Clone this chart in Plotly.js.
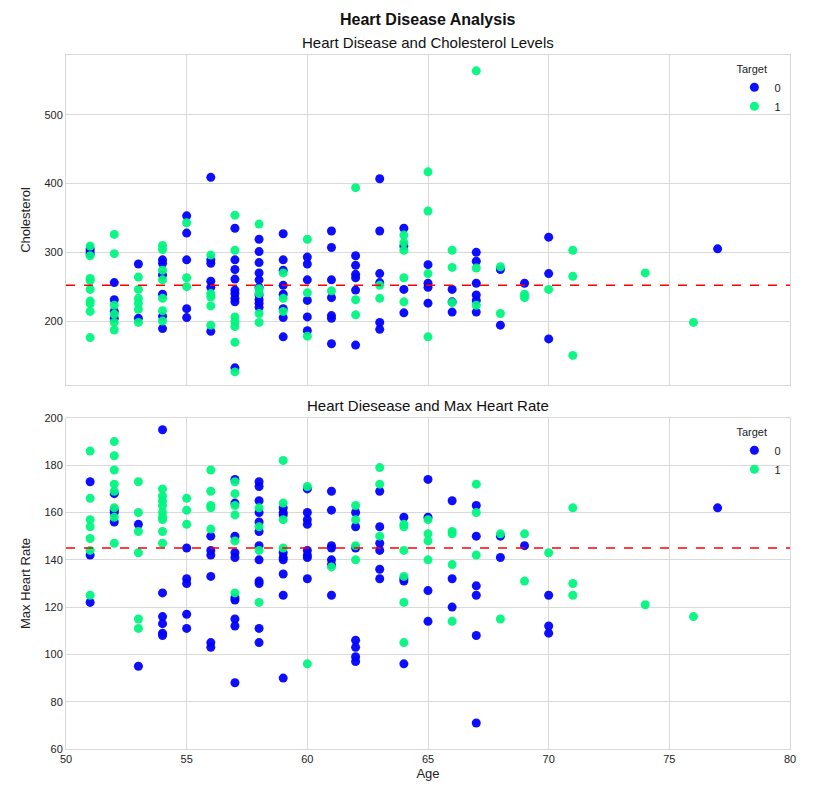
<!DOCTYPE html>
<html>
<head>
<meta charset="utf-8">
<script src="https://cdn.plot.ly/plotly-3.0.1.min.js"></script>
<style>
  body { margin: 0; background: #fff; }
  #plot { width: 826px; height: 795px; }
</style>
</head>
<body>
<div id="plot"></div>
<script>
// ages that have points, and values read per age (target 0 / target 1)
var cholAges0 = [51, 52, 53, 54, 55, 56, 57, 58, 59, 60, 61, 62, 63, 64, 65, 66, 67, 68, 69, 70, 77];
var cholVals0 = [
  [305, 302, 298], [256, 231, 214, 204], [283, 204], [289, 284, 267, 239, 207, 189],
  [353, 328, 289, 218, 205], [409, 289, 284, 258, 249, 185],
  [335, 289, 275, 261, 245, 240, 233, 228, 132],
  [319, 301, 285, 270, 260, 249, 238, 231, 226, 220],
  [327, 289, 274, 252, 239, 218, 205, 177], [293, 283, 260, 230, 206, 186],
  [331, 307, 260, 234, 208, 204, 167], [295, 281, 268, 263, 245, 165],
  [407, 331, 269, 256, 198, 188], [335, 309, 246, 212], [282, 255, 249, 226],
  [246, 228, 213], [300, 287, 255, 238, 230, 213], [275, 194], [255], [322, 269, 174], [305]
];
var cholAges1 = [51, 52, 53, 54, 55, 56, 57, 58, 59, 60, 61, 62, 63, 64, 65, 66, 67, 68, 69, 70, 71, 74, 76];
var cholVals1 = [
  [309, 295, 262, 259, 246, 229, 225, 214, 176], [326, 298, 223, 210, 198, 187],
  [264, 246, 233, 226, 217, 198], [310, 304, 274, 260, 233, 215, 200], [343, 263, 250],
  [296, 240, 235, 222, 194], [354, 303, 206, 199, 192, 169, 126], [341, 247, 240, 211, 198],
  [270, 233, 214], [319, 241, 178], [244], [394, 231, 209], [252, 233],
  [325, 314, 303, 263, 228], [417, 360, 269, 177], [303, 278, 227], [564, 277, 223],
  [279, 211], [239, 234], [246], [303, 265, 150], [270], [198]
];

var hrAges0 = [51, 52, 53, 54, 55, 56, 57, 58, 59, 60, 61, 62, 63, 64, 65, 66, 67, 68, 69, 70, 77];
var hrVals0 = [
  [173, 142, 122], [168, 161, 160, 156], [155, 95], [195, 126, 116, 113, 109, 108],
  [145, 132, 130, 117, 111], [150, 144, 142, 133, 105, 103],
  [174, 164, 150, 143, 141, 124, 123, 115, 112, 88],
  [173, 171, 165, 160, 156, 152, 146, 140, 131, 130, 111, 105],
  [162, 160, 159, 143, 141, 140, 134, 125, 90], [170, 160, 157, 155, 144, 142, 141, 132],
  [169, 161, 146, 145, 140, 138, 125], [160, 154, 145, 106, 103, 99, 97],
  [169, 154, 147, 144, 136, 132], [158, 132, 131, 96], [174, 158, 127, 114],
  [165, 132, 120], [163, 150, 129, 125, 108, 71], [150, 141], [146], [125, 112, 109], [162]
];
var hrAges1 = [51, 52, 53, 54, 55, 56, 57, 58, 59, 60, 61, 62, 63, 64, 65, 66, 67, 68, 69, 70, 71, 74, 76];
var hrVals1 = [
  [186, 166, 157, 154, 149, 144, 125], [190, 184, 178, 172, 169, 162, 158, 147],
  [173, 160, 152, 143, 115, 111], [170, 167, 165, 163, 160, 158, 157, 152, 147],
  [166, 161, 155], [178, 169, 163, 162, 153], [173, 168, 163, 159, 148, 126],
  [162, 154, 144, 122], [182, 164, 157, 145], [171, 96], [137], [163, 157, 146, 140],
  [179, 172, 150], [155, 154, 144, 133, 122, 105], [157, 151, 148, 140],
  [152, 151, 138, 114], [172, 160, 142], [151, 115], [151, 131], [143],
  [162, 130, 125], [121], [116]
];

// means
var cholMean = 252;
var hrMean = 145;

var targetNames = ["0", "1"];
var targetColors = ["#0000ff", "#00f57f"];

function flat(ages, vals) {
  var xs = [], ys = [];
  ages.forEach(function (a, i) {
    vals[i].forEach(function (v) { xs.push(a); ys.push(v); });
  });
  return { x: xs, y: ys };
}

function pts(ages, vals, t, xa, ya, leg) {
  var d = flat(ages, vals);
  return {
    x: d.x, y: d.y,
    xaxis: xa, yaxis: ya,
    type: "scatter", mode: "markers",
    name: targetNames[t],
    legend: leg,
    marker: { color: targetColors[t], size: 9, opacity: 0.95 }
  };
}

var traces = [
  pts(cholAges0, cholVals0, 0, "x2", "y2", "legend"),
  pts(cholAges1, cholVals1, 1, "x2", "y2", "legend"),
  pts(hrAges0, hrVals0, 0, "x", "y", "legend2"),
  pts(hrAges1, hrVals1, 1, "x", "y", "legend2")
];

var gridCol = "#d9d9d9";
var tickFont = { family: "Liberation Sans, Arial, sans-serif", size: 11, color: "#222" };

var legendStyle = {
  xanchor: "right", yanchor: "top",
  bgcolor: "rgba(255,255,255,0)",
  font: { family: "Liberation Sans, Arial, sans-serif", size: 11, color: "#222" },
  title: { text: "Target", side: "top", font: { size: 11 } },
  itemsizing: "trace"
};

var layout = {
  width: 826, height: 795,
  margin: { l: 66, r: 36, t: 55, b: 46 },
  paper_bgcolor: "#fff", plot_bgcolor: "#fff",
  font: { family: "Liberation Sans, Arial, sans-serif", color: "#222" },
  showlegend: true,
  xaxis: {
    domain: [0, 1], anchor: "y", range: [50, 80], dtick: 5,
    showgrid: true, gridcolor: gridCol, zeroline: false,
    showline: true, linecolor: gridCol, mirror: true,
    ticks: "", tickfont: tickFont,
    title: { text: "Age", font: { size: 13 }, standoff: 4 }
  },
  yaxis: {
    domain: [0, 0.477], anchor: "x", range: [60, 200], dtick: 20,
    showgrid: true, gridcolor: gridCol, zeroline: false,
    showline: true, linecolor: gridCol, mirror: true,
    ticks: "", tickfont: tickFont,
    title: { text: "Max Heart Rate", font: { size: 13 }, standoff: 10 }
  },
  xaxis2: {
    domain: [0, 1], anchor: "y2", matches: "x", range: [50, 80], dtick: 5,
    showgrid: true, gridcolor: gridCol, zeroline: false,
    showline: true, linecolor: gridCol, mirror: true,
    ticks: "", showticklabels: false
  },
  yaxis2: {
    domain: [0.5245, 1], anchor: "x2", range: [107, 587],
    tickvals: [200, 300, 400, 500],
    showgrid: true, gridcolor: gridCol, zeroline: false,
    showline: true, linecolor: gridCol, mirror: true,
    ticks: "", tickfont: tickFont,
    title: { text: "Cholesterol", font: { size: 13 }, standoff: 10 }
  },
  legend: Object.assign({ x: 0.995, y: 0.995 }, legendStyle),
  legend2: Object.assign({ x: 0.995, y: 0.472 }, legendStyle),
  shapes: [
    { type: "line", xref: "x2 domain", yref: "y2", x0: 0, x1: 1, y0: cholMean, y1: cholMean,
      line: { color: "#ff0000", width: 1.6, dash: "dash" } },
    { type: "line", xref: "x domain", yref: "y", x0: 0, x1: 1, y0: hrMean, y1: hrMean,
      line: { color: "#ff0000", width: 1.6, dash: "dash" } }
  ],
  annotations: [
    { text: "<b>Heart Disease Analysis</b>", xref: "paper", yref: "paper", x: 0.5, y: 1,
      yshift: 46, showarrow: false, font: { size: 16, color: "#111" } },
    { text: "Heart Disease and Cholesterol Levels", xref: "paper", yref: "paper", x: 0.5, y: 1,
      yanchor: "bottom", yshift: 2, showarrow: false, font: { size: 15, color: "#111" } },
    { text: "Heart Diesease and Max Heart Rate", xref: "paper", yref: "paper", x: 0.5, y: 0.477,
      yanchor: "bottom", yshift: 2, showarrow: false, font: { size: 15, color: "#111" } }
  ]
};

Plotly.newPlot("plot", traces, layout, { displayModeBar: false, staticPlot: true });
</script>
</body>
</html>
